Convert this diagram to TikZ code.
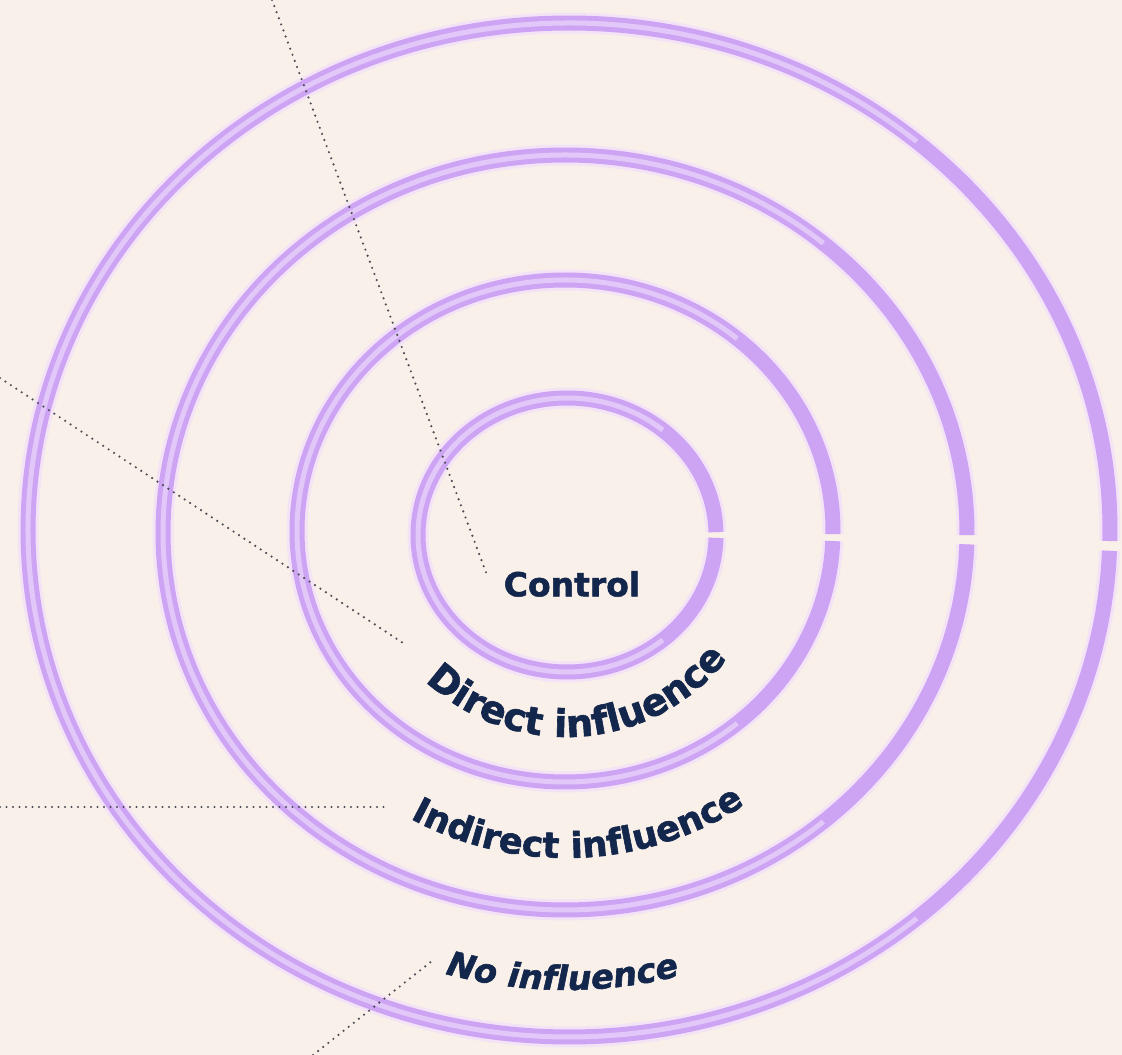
\documentclass[tikz,border=0pt]{standalone}
\usepackage{fontspec}
\newfontfamily\labelfont{DejaVu Sans}[BoldFeatures={FakeBold=1.6},
  BoldItalicFeatures={FakeBold=1.6}]
\usetikzlibrary{decorations.text}

\definecolor{paper}{HTML}{F8F0E9}
\definecolor{ringhalo}{HTML}{F4E3F6}
\definecolor{ringband}{HTML}{CDA3F3}
\definecolor{ringcore}{HTML}{E2C8F8}
\definecolor{ink}{HTML}{13264C}
\definecolor{leader}{HTML}{4C4C54}

% one ring: #1 centre x, #2 centre y, #3 x radius, #4 y radius,
% #5 angle of the break, #6 half width of the break (degrees)
\newcommand\drawring[6]{%
  \draw[halo] (#1,#2) ++({#5+#6}:#3 and #4)
    arc[start angle={#5+#6}, end angle={#5+360-#6}, x radius=#3, y radius=#4];
  \draw[band] (#1,#2) ++({#5+#6}:#3 and #4)
    arc[start angle={#5+#6}, end angle={#5+360-#6}, x radius=#3, y radius=#4];
  \draw[core] (#1,#2) ++(50:#3 and #4)
    arc[start angle=50, end angle=310, x radius=#3, y radius=#4];
}

\begin{document}
\begin{tikzpicture}[x=1pt,y=1pt,
  halo/.style={line width=21pt, ringhalo},
  band/.style={line width=15pt, ringband},
  core/.style={line width=5pt, ringcore},
  leaderline/.style={leader, line width=2.4pt, line cap=round,
    dash pattern=on 0pt off 6.5pt},
  arclabel/.style={decorate, decoration={text along path,
    text align=center, text color=ink, text={#1}}},
]
\useasboundingbox (0,0) rectangle (1122,1055);
\fill[paper] (0,0) rectangle (1122,1055);
\clip (0,0) rectangle (1122,1055);

% concentric rings, each broken on its right-hand side
\drawring{567}{520}{149}{137}{0}{1.2}
\drawring{565}{524}{268}{251}{-1.5}{0.8}
\drawring{565}{522.5}{402}{377.5}{-1.1}{0.7}
\drawring{569}{525}{541}{507}{-1.8}{0.55}

% labels
\node[font=\labelfont\bfseries\fontsize{33}{36}\selectfont, text=ink]
  (ctrl) at (572,471) {Control};

\path[arclabel={|\labelfont\bfseries\fontsize{38}{40}\selectfont|Direct influence}]
  (566,523) ++(214.25:205) arc[start angle=214.25, end angle=334.25, radius=205];

\path[arclabel={|\labelfont\bfseries\fontsize{35.4}{38}\selectfont|Indirect influence}]
  (566,523) ++(227.35:326) arc[start angle=227.35, end angle=317.35, radius=326];

\path[arclabel={|\labelfont\bfseries\itshape\fontsize{33.5}{36}\selectfont|No influence}]
  (566,523) ++(244.55:458) arc[start angle=244.55, end angle=294.55, radius=458];

% dotted leader lines
\coordinate (ctrlEdge)  at (272,1055);
\coordinate (ctrlTip)   at (487,480);
\coordinate (directEdge) at (0,677);
\coordinate (directTip)  at (403,412);
\coordinate (indirEdge) at (0,248);
\coordinate (indirTip)  at (388,248);
\coordinate (noneEdge)  at (313,0);
\coordinate (noneTip)   at (432,94);

\draw[leaderline] (ctrlEdge) -- (ctrlTip);
\draw[leaderline] (directEdge) -- (directTip);
\draw[leaderline] (indirEdge) -- (indirTip);
\draw[leaderline] (noneEdge) -- (noneTip);
\end{tikzpicture}
\end{document}
